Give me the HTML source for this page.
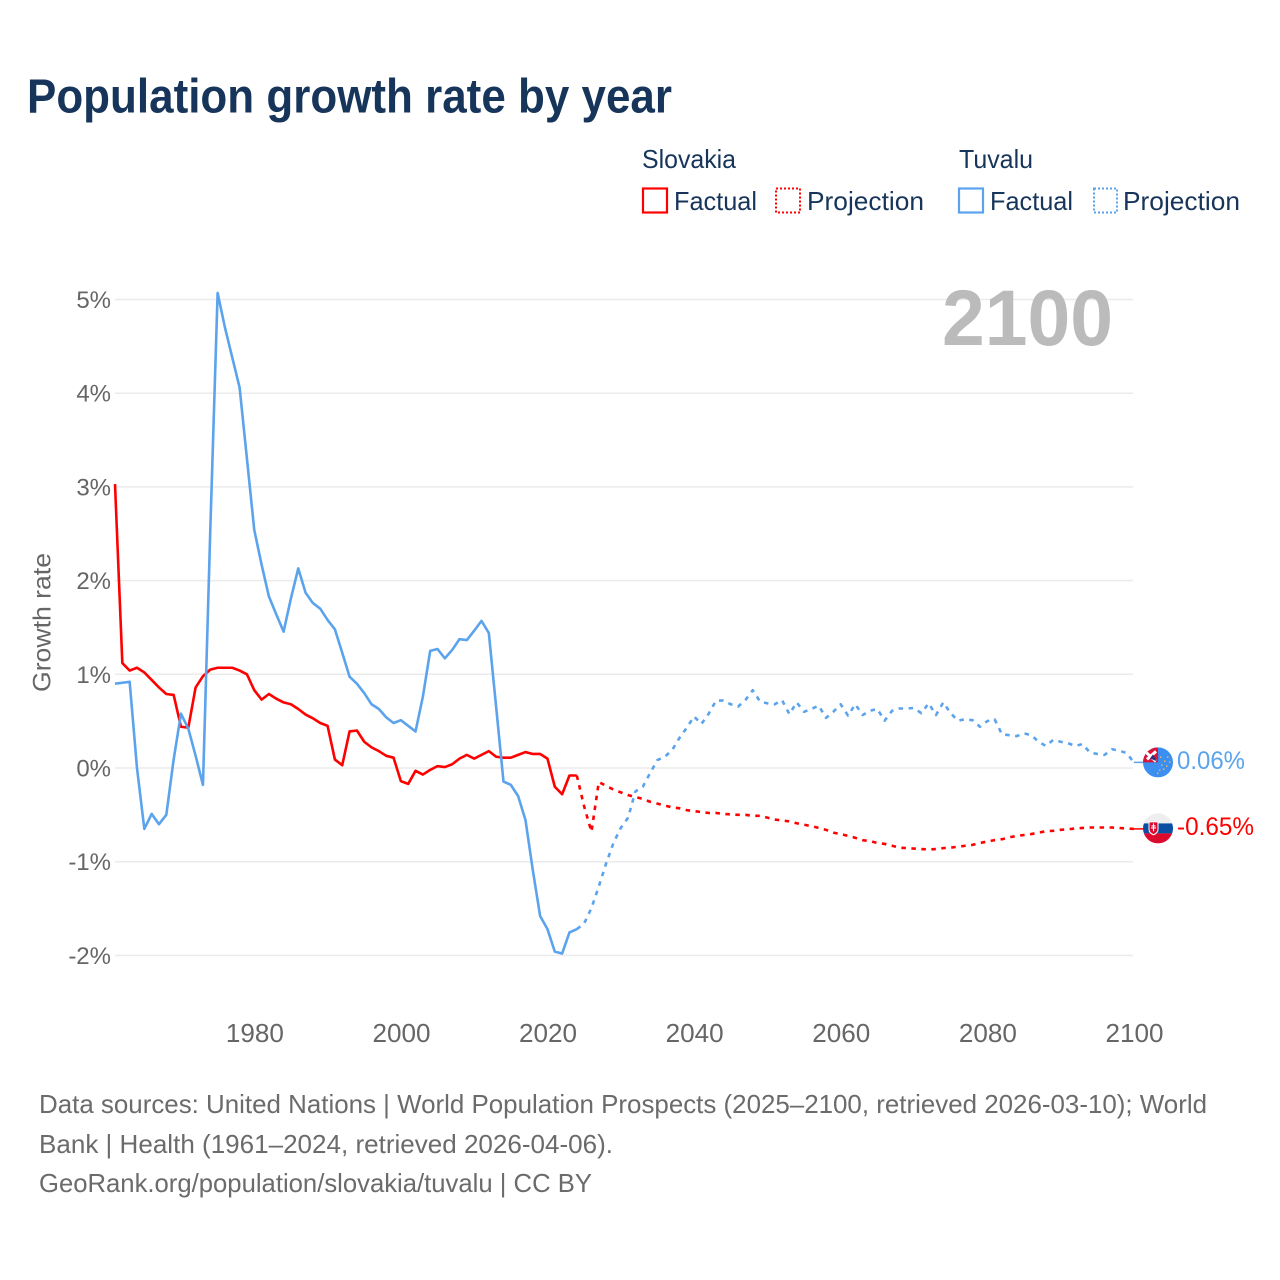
<!DOCTYPE html>
<html lang="en">
<head>
<meta charset="utf-8">
<title>Population growth rate by year</title>
<style>
html,body{margin:0;padding:0;background:#fff;}
svg{display:block;font-family:"Liberation Sans",sans-serif;}
</style>
</head>
<body>
<svg id="chart" xmlns="http://www.w3.org/2000/svg" width="1280" height="1280" viewBox="0 0 1280 1280">
  <defs>
    <clipPath id="clip-tv"><circle cx="0" cy="0" r="15"/></clipPath>
    <clipPath id="clip-sk"><circle cx="0" cy="0" r="15"/></clipPath>
  </defs>
  <rect x="0" y="0" width="1280" height="1280" fill="#fff"/>
  <text x="27" y="112.5" font-size="48" font-weight="700" fill="#17355a" textLength="645" lengthAdjust="spacingAndGlyphs">Population growth rate by year</text>

  <g font-size="26" fill="#17355a">
    <text x="642" y="168" textLength="94" lengthAdjust="spacingAndGlyphs">Slovakia</text>
    <rect x="643" y="188.5" width="24" height="24" fill="none" stroke="#ff0000" stroke-width="2.2"/>
    <text x="674" y="210" textLength="83" lengthAdjust="spacingAndGlyphs">Factual</text>
    <rect x="776" y="188.5" width="24" height="24" fill="none" stroke="#ff0000" stroke-width="2" stroke-dasharray="2 2"/>
    <text x="807" y="210" textLength="117" lengthAdjust="spacingAndGlyphs">Projection</text>
    <text x="959" y="168" textLength="74" lengthAdjust="spacingAndGlyphs">Tuvalu</text>
    <rect x="959" y="188.5" width="24" height="24" fill="none" stroke="#5ba3ec" stroke-width="2.2"/>
    <text x="990" y="210" textLength="83" lengthAdjust="spacingAndGlyphs">Factual</text>
    <rect x="1094" y="188.5" width="23" height="24" fill="none" stroke="#5ba3ec" stroke-width="2" stroke-dasharray="2 2"/>
    <text x="1123" y="210" textLength="117" lengthAdjust="spacingAndGlyphs">Projection</text>
  </g>

  <g id="grid"></g>
  <g id="y-labels"></g>
  <g id="x-labels"></g>
  <text transform="translate(50.5,692) rotate(-90)" font-size="25" fill="#666" textLength="139" lengthAdjust="spacingAndGlyphs">Growth rate</text>
  <text x="942" y="345" font-size="79" font-weight="700" fill="#bbbbbb" textLength="171" lengthAdjust="spacingAndGlyphs">2100</text>

  <g id="series"></g>

  <g id="flag-tuvalu">
    <g clip-path="url(#clip-tv)">
      <rect x="-15" y="-15" width="30" height="30" fill="#3a8ff0"/>
      <rect x="-15" y="-15" width="15" height="15" fill="#d9143a"/>
      <path d="M-12-10 L-2-1" stroke="#fff" stroke-width="3" fill="none"/>
      <path d="M-2-11 L-11-3" stroke="#fff" stroke-width="3" fill="none"/>
      <path d="M-8-4 L-1-1 L-5-8 Z" fill="#26337a"/>
      <g fill="#f0b060">
        <rect x="2" y="-6" width="1.5" height="1.5"/><rect x="9" y="-6" width="1.5" height="1.5"/>
        <rect x="6" y="-2" width="1.5" height="1.5"/><rect x="11" y="-1" width="1.5" height="1.5"/>
        <rect x="3" y="2" width="1.5" height="1.5"/><rect x="8" y="3" width="1.5" height="1.5"/>
        <rect x="1" y="7" width="1.5" height="1.5"/><rect x="5" y="6" width="1.5" height="1.5"/>
        <rect x="-1" y="10" width="1.5" height="1.5"/>
      </g>
    </g>
  </g>
  <g id="flag-slovakia">
    <g clip-path="url(#clip-sk)">
      <rect x="-15" y="-15" width="30" height="10" fill="#eeeeee"/>
      <rect x="-15" y="-5" width="30" height="10" fill="#0b4ea2"/>
      <rect x="-15" y="5" width="30" height="10" fill="#dc0a2c"/>
      <path d="M-9.5-7 H0.5 V1 Q0.5 5 -4.5 7 Q-9.5 5 -9.5 1 Z" fill="#fff"/>
      <path d="M-8.5-6 H-0.5 V1 Q-0.5 4 -4.5 5.8 Q-8.5 4 -8.5 1 Z" fill="#dc0a2c"/>
      <path d="M-4.5-5 V3 M-6.5-2.5 H-2.5 M-7-0.5 H-2" stroke="#fff" stroke-width="1.1" fill="none"/>
    </g>
  </g>
  <g id="end-labels"></g>

  <g font-size="26" fill="#6b6b6b">
    <text x="39" y="1113" textLength="1168" lengthAdjust="spacingAndGlyphs">Data sources: United Nations | World Population Prospects (2025–2100, retrieved 2026-03-10); World</text>
    <text x="39" y="1153" textLength="574" lengthAdjust="spacingAndGlyphs">Bank | Health (1961–2024, retrieved 2026-04-06).</text>
    <text x="39" y="1192" textLength="553" lengthAdjust="spacingAndGlyphs">GeoRank.org/population/slovakia/tuvalu | CC BY</text>
  </g>
</svg>
<script>
const yTickValues = [5, 4, 3, 2, 1, 0, -1, -2];
const yTickLabels = ["5%", "4%", "3%", "2%", "1%", "0%", "-1%", "-2%"];
const xTickYears = [1980, 2000, 2020, 2040, 2060, 2080, 2100];
const xTickLabels = ["1980", "2000", "2020", "2040", "2060", "2080", "2100"];
const endLabels = ["0.06%", "-0.65%"];

const yearsFactual = [1961,1962,1963,1964,1965,1966,1967,1968,1969,1970,1971,1972,1973,1974,1975,1976,1977,1978,1979,1980,1981,1982,1983,1984,1985,1986,1987,1988,1989,1990,1991,1992,1993,1994,1995,1996,1997,1998,1999,2000,2001,2002,2003,2004,2005,2006,2007,2008,2009,2010,2011,2012,2013,2014,2015,2016,2017,2018,2019,2020,2021,2022,2023,2024];
const yearsProjection = [2024,2025,2026,2027,2028,2029,2030,2031,2032,2033,2034,2035,2036,2037,2038,2039,2040,2041,2042,2043,2044,2045,2046,2047,2048,2049,2050,2051,2052,2053,2054,2055,2056,2057,2058,2059,2060,2061,2062,2063,2064,2065,2066,2067,2068,2069,2070,2071,2072,2073,2074,2075,2076,2077,2078,2079,2080,2081,2082,2083,2084,2085,2086,2087,2088,2089,2090,2091,2092,2093,2094,2095,2096,2097,2098,2099,2100];

const slovakiaFactual = [3.03,1.12,1.04,1.07,1.02,0.94,0.86,0.79,0.78,0.44,0.43,0.86,0.98,1.05,1.07,1.07,1.07,1.04,1.00,0.83,0.73,0.79,0.74,0.70,0.68,0.63,0.57,0.53,0.48,0.45,0.09,0.03,0.39,0.40,0.28,0.22,0.18,0.13,0.11,-0.14,-0.17,-0.03,-0.07,-0.02,0.02,0.01,0.04,0.10,0.14,0.10,0.14,0.18,0.12,0.11,0.11,0.14,0.17,0.15,0.15,0.10,-0.20,-0.28,-0.08,-0.08];
const slovakiaProjection = [-0.08,-0.41,-0.68,-0.15,-0.19,-0.23,-0.26,-0.29,-0.31,-0.33,-0.36,-0.38,-0.40,-0.42,-0.43,-0.45,-0.46,-0.47,-0.48,-0.48,-0.49,-0.495,-0.50,-0.50,-0.51,-0.51,-0.53,-0.55,-0.56,-0.57,-0.59,-0.605,-0.62,-0.64,-0.66,-0.69,-0.705,-0.725,-0.745,-0.77,-0.78,-0.80,-0.81,-0.83,-0.85,-0.855,-0.86,-0.865,-0.87,-0.865,-0.855,-0.85,-0.84,-0.83,-0.82,-0.80,-0.785,-0.77,-0.76,-0.74,-0.725,-0.715,-0.705,-0.69,-0.675,-0.67,-0.66,-0.655,-0.645,-0.64,-0.635,-0.635,-0.635,-0.635,-0.64,-0.645,-0.65];
const tuvaluFactual = [0.90,0.91,0.92,0.00,-0.65,-0.49,-0.60,-0.50,0.09,0.58,0.42,0.13,-0.18,2.54,5.07,4.70,4.38,4.06,3.30,2.54,2.17,1.83,1.64,1.455,1.81,2.13,1.87,1.76,1.70,1.58,1.48,1.23,0.975,0.90,0.80,0.68,0.63,0.54,0.48,0.51,0.45,0.39,0.76,1.25,1.27,1.17,1.26,1.375,1.365,1.465,1.57,1.44,0.65,-0.145,-0.18,-0.30,-0.555,-1.09,-1.58,-1.72,-1.96,-1.98,-1.755,-1.72];
const tuvaluProjection = [-1.72,-1.66,-1.495,-1.265,-1.02,-0.80,-0.64,-0.53,-0.25,-0.20,-0.055,0.085,0.12,0.19,0.32,0.43,0.55,0.47,0.58,0.72,0.72,0.68,0.655,0.725,0.83,0.71,0.69,0.68,0.725,0.575,0.70,0.60,0.63,0.665,0.535,0.60,0.68,0.56,0.68,0.565,0.61,0.63,0.505,0.61,0.635,0.635,0.64,0.585,0.69,0.565,0.70,0.585,0.505,0.52,0.51,0.44,0.50,0.52,0.36,0.35,0.34,0.37,0.35,0.28,0.235,0.30,0.28,0.265,0.235,0.255,0.165,0.15,0.14,0.20,0.185,0.16,0.06];

const SVG_NS = "http://www.w3.org/2000/svg";
const RED = "#ff0000";
const BLUE = "#5ba3ec";
function xScale(year) { return 115 + (year - 1961) * 7.33; }
function yScale(value) { return 768 - value * 93.7; }
function linePath(years, values) {
  return years.map(function (yr, i) {
    return (i ? "L" : "M") + xScale(yr).toFixed(2) + " " + yScale(values[i]).toFixed(2);
  }).join(" ");
}
function addLine(parent, d, color, dashed) {
  const p = document.createElementNS(SVG_NS, "path");
  p.setAttribute("d", d);
  p.setAttribute("fill", "none");
  p.setAttribute("stroke", color);
  p.setAttribute("stroke-width", "2.6");
  p.setAttribute("stroke-linejoin", "round");
  if (dashed) { p.setAttribute("stroke-dasharray", "4.5 5.5"); }
  parent.appendChild(p);
  return p;
}

const gridGroup = document.getElementById("grid");
const yLabelGroup = document.getElementById("y-labels");
yTickValues.forEach(function (v, i) {
  const gl = document.createElementNS(SVG_NS, "line");
  
  
  gl.setAttribute("x1", "115");
  gl.setAttribute("x2", "1133");
  gl.setAttribute("y1", yScale(v));
  gl.setAttribute("y2", yScale(v));
  gl.setAttribute("stroke", "#ebebeb");
  gl.setAttribute("stroke-width", "1.5");
  gridGroup.appendChild(gl);
  const t = document.createElementNS(SVG_NS, "text");
  
  
  t.setAttribute("x", "111");
  t.setAttribute("y", yScale(v) + 8.5);
  t.setAttribute("text-anchor", "end");
  t.setAttribute("font-size", "24");
  t.setAttribute("fill", "#666");
  t.textContent = yTickLabels[i];
  yLabelGroup.appendChild(t);
});

const xLabelGroup = document.getElementById("x-labels");
xTickYears.forEach(function (yr, i) {
  const t = document.createElementNS(SVG_NS, "text");
  
  
  t.setAttribute("x", xScale(yr) - 28.4);
  t.setAttribute("y", "1042");
  t.setAttribute("font-size", "25.5");
  t.setAttribute("fill", "#666");
  t.setAttribute("textLength", "58");
  t.setAttribute("lengthAdjust", "spacingAndGlyphs");
  t.textContent = xTickLabels[i];
  xLabelGroup.appendChild(t);
});

const seriesGroup = document.getElementById("series");
const skF = addLine(seriesGroup, linePath(yearsFactual, slovakiaFactual), RED, false);


const skP = addLine(seriesGroup, linePath(yearsProjection, slovakiaProjection), RED, true);


const tvF = addLine(seriesGroup, linePath(yearsFactual, tuvaluFactual), BLUE, false);


const tvP = addLine(seriesGroup, linePath(yearsProjection, tuvaluProjection), BLUE, true);



const tvEndY = yScale(tuvaluProjection[tuvaluProjection.length - 1]);
const skEndY = yScale(slovakiaProjection[slovakiaProjection.length - 1]);
const endX = xScale(yearsProjection[yearsProjection.length - 1]);
const tvLead = addLine(seriesGroup, "M" + endX + " " + tvEndY + " L" + (endX + 12) + " " + tvEndY, BLUE, false);


tvLead.setAttribute("stroke-width", "1.5");
const skLead = addLine(seriesGroup, "M" + endX + " " + skEndY + " L" + (endX + 12) + " " + skEndY, RED, false);


skLead.setAttribute("stroke-width", "1.5");

document.getElementById("flag-tuvalu").setAttribute("transform", "translate(1158," + tvEndY + ")");
document.getElementById("flag-slovakia").setAttribute("transform", "translate(1158," + (skEndY - 0.5) + ")");

const endGroup = document.getElementById("end-labels");
const tvLabel = document.createElementNS(SVG_NS, "text");


tvLabel.setAttribute("x", "1177");
tvLabel.setAttribute("y", tvEndY + 6.5);
tvLabel.setAttribute("font-size", "25");
tvLabel.setAttribute("fill", BLUE);
tvLabel.setAttribute("textLength", "68");
tvLabel.setAttribute("lengthAdjust", "spacingAndGlyphs");
tvLabel.textContent = endLabels[0];
endGroup.appendChild(tvLabel);
const skLabel = document.createElementNS(SVG_NS, "text");


skLabel.setAttribute("x", "1177");
skLabel.setAttribute("y", skEndY + 6);
skLabel.setAttribute("font-size", "25");
skLabel.setAttribute("fill", RED);
skLabel.setAttribute("textLength", "77");
skLabel.setAttribute("lengthAdjust", "spacingAndGlyphs");
skLabel.textContent = endLabels[1];
endGroup.appendChild(skLabel);
</script>
</body>
</html>
